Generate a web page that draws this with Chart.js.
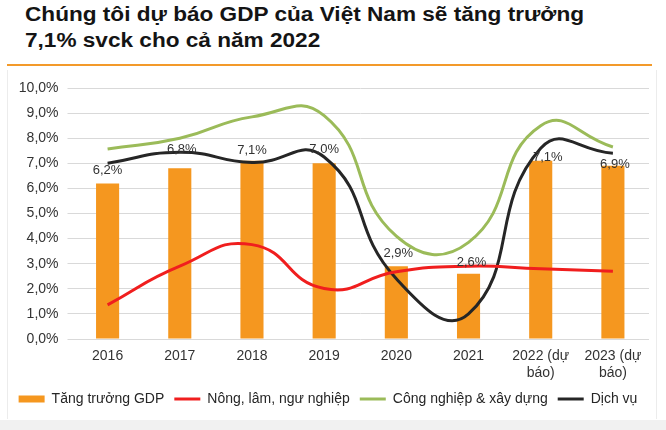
<!DOCTYPE html>
<html>
<head>
<meta charset="utf-8">
<script src="https://cdn.jsdelivr.net/npm/chart.js@4"></script>
<style>
  html, body { margin: 0; padding: 0; background: #ffffff; width: 666px; height: 430px; overflow: hidden; font-family: "Liberation Sans", Arial, sans-serif; }
  #title { position: absolute; left: 25px; top: 1px; font-size: 20px; font-weight: bold; line-height: 26px; color: #141414; transform: scaleX(1.13); transform-origin: 0 0; white-space: nowrap; }
  #rule { position: absolute; left: 7px; top: 64px; width: 645px; height: 2px; background: #f39a2a; }
  #box { position: absolute; left: 7px; top: 70px; width: 648px; height: 349px; border-left: 1px solid #ececec; border-right: 1px solid #ececec; }
  #foot { position: absolute; left: 0; top: 420px; width: 666px; height: 10px; background: #f1f1f1; }
  #wrap { position: absolute; left: 7px; top: 70px; width: 649px; height: 349px; }
</style>
</head>
<body>
<div id="title">Chúng tôi dự báo GDP của Việt Nam sẽ tăng trưởng<br>7,1% svck cho cả năm 2022</div>
<div id="rule"></div>
<div id="box"></div>
<div id="foot"></div>
<div id="wrap"><canvas id="c" width="649" height="349"></canvas></div>
<script>
const categories = ['2016', '2017', '2018', '2019', '2020', '2021', ['2022 (dự', 'báo)'], ['2023 (dự', 'báo)']];
const gdpGrowth = [6.2, 6.8, 7.1, 7.0, 2.9, 2.6, 7.1, 6.9];
const agriculture = [1.36, 2.9, 3.76, 2.01, 2.68, 2.9, 2.8, 2.7];
const industry = [7.57, 8.0, 8.85, 8.9, 4.1, 3.85, 8.5, 7.65];
const services = [7.0, 7.44, 7.03, 7.25, 2.4, 1.0, 7.6, 7.4];
const seriesNames = ['Tăng trưởng GDP', 'Nông, lâm, ngư nghiệp', 'Công nghiệp & xây dựng', 'Dịch vụ'];
const yTicks = [0, 1, 2, 3, 4, 5, 6, 7, 8, 9, 10];

const FONT = '"Liberation Sans", Arial, sans-serif';
const fmt = v => v.toFixed(1).replace('.', ',') + '%';

// label offsets (style only): [dx, dy] relative to top of bar
const labelOffsets = [[0, -9], [2, -15], [0, -7], [0, -10], [2, -9], [3, -8], [7, 0], [2, 2]];

const barLabels = {
  id: 'barLabels',
  afterDatasetsDraw(chart) {
    const meta = chart.getDatasetMeta(0);
    const ctx = chart.ctx;
    ctx.save();
    ctx.font = '13px ' + FONT;
    ctx.fillStyle = '#333333';
    ctx.textAlign = 'center';
    ctx.textBaseline = 'alphabetic';
    meta.data.forEach((bar, i) => {
      const o = labelOffsets[i] || [0, -8];
      ctx.fillText(fmt(chart.data.datasets[0].data[i]), bar.x + o[0], bar.y + o[1]);
    });
    ctx.restore();
  }
};

const lineDs = (label, data, color) => ({
  type: 'line', label, data,
  borderColor: color, backgroundColor: color,
  borderWidth: 3, pointRadius: 0, pointHoverRadius: 0,
  pointStyle: 'line', tension: 0.5, fill: false, order: 0
});

new Chart(document.getElementById('c'), {
  type: 'bar',
  data: {
    labels: categories,
    datasets: [
      { type: 'bar', label: seriesNames[0], data: gdpGrowth, backgroundColor: '#f5971f', borderWidth: 0,
        categoryPercentage: 1, barPercentage: 0.32, pointStyle: 'rect', order: 1 },
      lineDs(seriesNames[1], agriculture, '#f01e1e'),
      lineDs(seriesNames[2], industry, '#9bbb59'),
      lineDs(seriesNames[3], services, '#262626')
    ]
  },
  options: {
    responsive: false,
    animation: false,
    devicePixelRatio: 1,
    layout: { padding: { left: 0, right: 7, top: 18, bottom: 3 } },
    plugins: {
      tooltip: { enabled: false },
      legend: {
        position: 'bottom',
        labels: {
          sort: (a, b) => a.datasetIndex - b.datasetIndex,
          usePointStyle: true, pointStyleWidth: 26, boxWidth: 26, boxHeight: 7,
          padding: 10, color: '#262626', font: { family: FONT, size: 14 }
        }
      }
    },
    scales: {
      x: {
        grid: { display: false },
        border: { display: false },
        ticks: { color: '#333333', font: { family: FONT, size: 14 }, padding: 1, maxRotation: 0, autoSkip: false },
        afterFit: s => { s.height = 43; }
      },
      y: {
        min: 0, max: 10,
        afterBuildTicks: s => { s.ticks = yTicks.map(v => ({ value: v })); },
        grid: { color: '#d9d9d9', lineWidth: 1, tickLength: 4, drawTicks: true },
        border: { display: false },
        ticks: { color: '#333333', font: { family: FONT, size: 14 }, padding: 9, callback: v => fmt(v) },
        afterFit: s => { s.width = 64.5; }
      }
    }
  },
  plugins: [barLabels]
});
</script>
</body>
</html>
